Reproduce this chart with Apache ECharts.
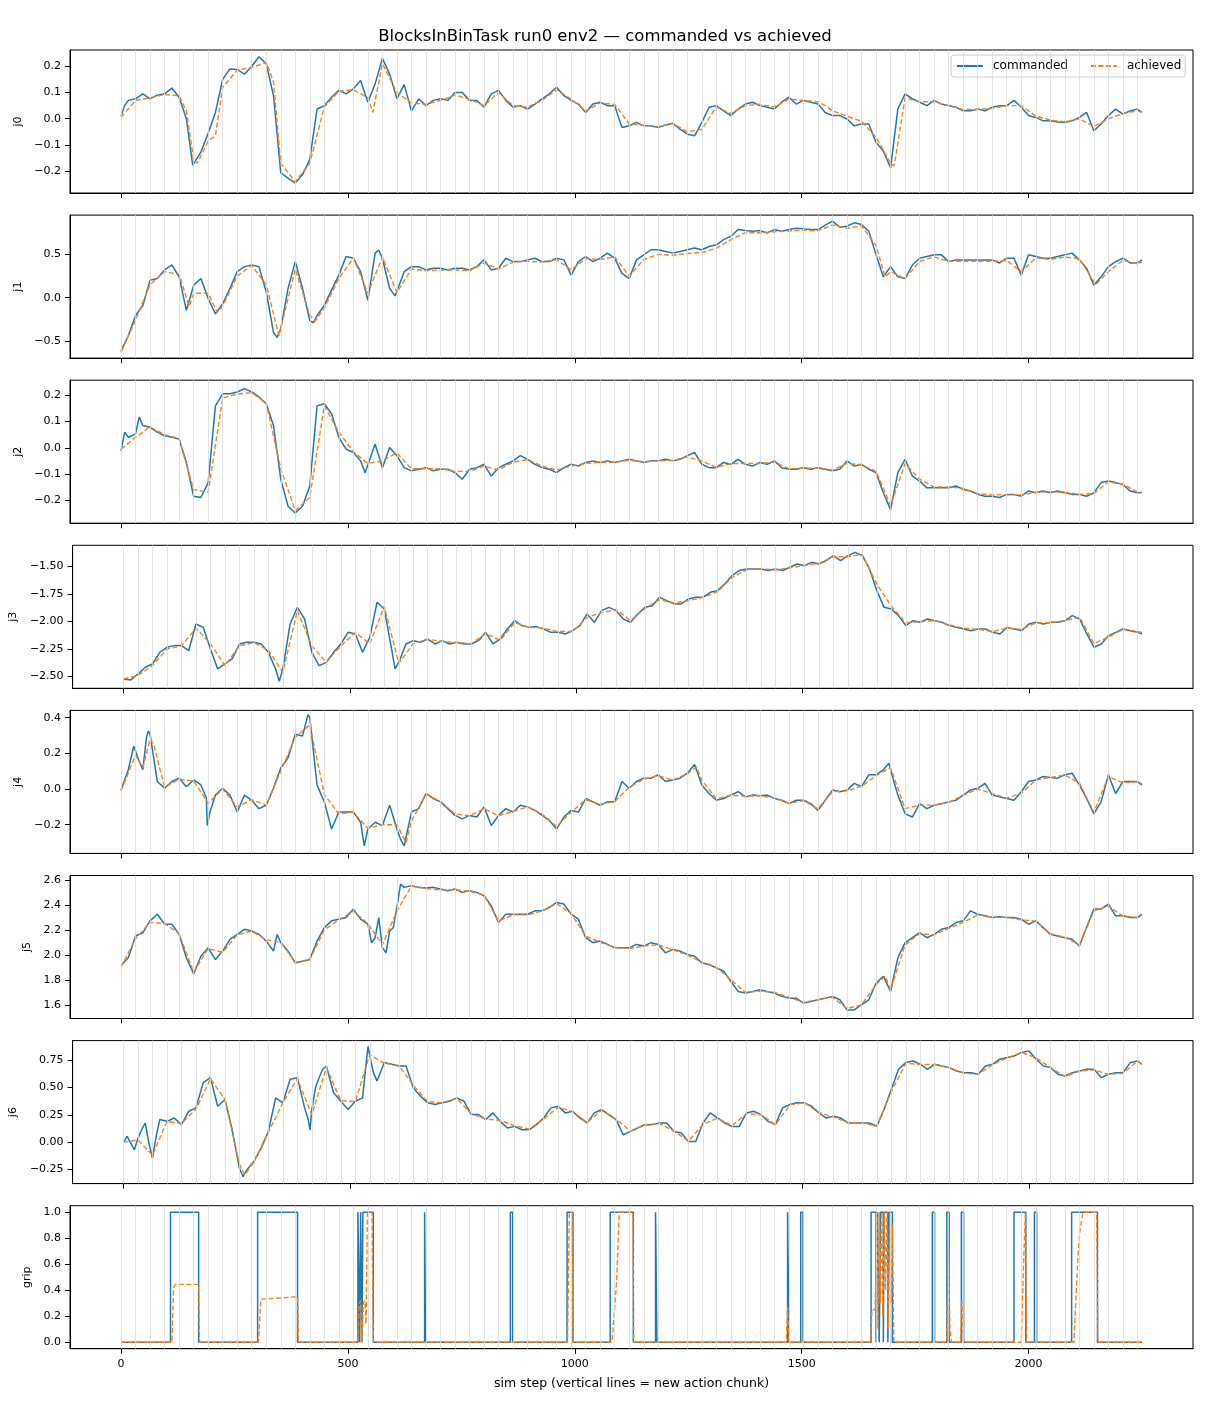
<!DOCTYPE html>
<html><head><meta charset="utf-8">
<script src="https://cdn.jsdelivr.net/npm/echarts@6/dist/echarts.min.js"></script>
<style>html,body{margin:0;padding:0;background:#fff}#c{width:1210px;height:1408px}</style>
</head><body><div id="c"></div>
<script>
const titleText = 'BlocksInBinTask run0 env2 \u2014 commanded vs achieved';
const xLabel = 'sim step (vertical lines = new action chunk)';
const seriesNames = ['commanded', 'achieved'];
const xTicks = [0, 500, 1000, 1500, 2000];
const chunkStarts = [0,32,64,96,128,160,192,224,256,288,320,352,384,416,448,480,512,544,576,608,640,672,704,736,768,800,832,864,896,928,960,992,1024,1056,1088,1120,1152,1184,1216,1248,1280,1312,1344,1376,1408,1440,1472,1504,1536,1568,1600,1632,1664,1696,1728,1760,1792,1824,1856,1888,1920,1952,1984,2016,2048,2080,2112,2144,2176,2208,2240];

const j0Cmd = [[0,0.01],[8,0.05],[16,0.07],[32,0.076],[48,0.095],[64,0.076],[80,0.09],[96,0.095],[112,0.117],[128,0.082],[144,0.0],[158,-0.177],[176,-0.127],[192,-0.055],[208,0.024],[224,0.15],[240,0.19],[256,0.188],[272,0.17],[288,0.2],[304,0.236],[320,0.21],[336,0.088],[352,-0.206],[368,-0.226],[384,-0.245],[400,-0.213],[416,-0.155],[432,0.037],[448,0.05],[464,0.082],[480,0.108],[496,0.095],[512,0.114],[528,0.146],[544,0.063],[560,0.133],[576,0.23],[592,0.17],[608,0.076],[624,0.13],[640,0.03],[656,0.076],[672,0.05],[688,0.07],[704,0.076],[720,0.07],[736,0.1],[752,0.1],[768,0.07],[784,0.07],[800,0.044],[816,0.095],[832,0.108],[848,0.07],[864,0.044],[880,0.05],[896,0.037],[912,0.056],[928,0.076],[944,0.095],[960,0.12],[976,0.088],[992,0.07],[1008,0.056],[1024,0.024],[1040,0.056],[1056,0.063],[1072,0.05],[1088,0.05],[1104,-0.033],[1120,-0.027],[1136,-0.014],[1152,-0.027],[1168,-0.027],[1184,-0.033],[1200,-0.024],[1216,-0.017],[1232,-0.04],[1248,-0.059],[1264,-0.065],[1280,-0.014],[1296,0.044],[1312,0.05],[1328,0.03],[1344,0.012],[1360,0.037],[1376,0.056],[1392,0.063],[1408,0.05],[1424,0.044],[1440,0.037],[1456,0.063],[1472,0.082],[1488,0.056],[1504,0.07],[1520,0.063],[1536,0.056],[1552,0.024],[1568,0.012],[1584,0.012],[1600,-0.001],[1616,-0.027],[1632,-0.02],[1648,-0.02],[1664,-0.09],[1680,-0.123],[1696,-0.187],[1712,0.037],[1728,0.095],[1744,0.076],[1760,0.063],[1776,0.05],[1792,0.07],[1808,0.056],[1824,0.05],[1840,0.044],[1856,0.03],[1872,0.03],[1888,0.037],[1904,0.03],[1920,0.044],[1936,0.05],[1952,0.05],[1968,0.07],[1984,0.044],[2000,0.012],[2016,0.005],[2032,-0.008],[2048,-0.008],[2064,-0.012],[2080,-0.014],[2096,-0.008],[2112,0.005],[2128,0.024],[2144,-0.046],[2160,-0.02],[2176,0.012],[2192,0.037],[2208,0.018],[2224,0.03],[2240,0.037],[2250,0.024]];
const j0Ach = [[0,0.005],[32,0.07],[64,0.08],[96,0.092],[128,0.088],[144,0.03],[160,-0.155],[168,-0.17],[192,-0.085],[208,-0.065],[224,0.12],[256,0.185],[288,0.195],[320,0.215],[336,0.14],[352,-0.17],[384,-0.24],[416,-0.17],[448,0.045],[480,0.105],[512,0.11],[544,0.08],[555,0.024],[576,0.21],[608,0.1],[640,0.06],[672,0.055],[704,0.07],[736,0.09],[768,0.075],[800,0.05],[832,0.1],[864,0.05],[896,0.045],[928,0.07],[960,0.11],[992,0.075],[1024,0.03],[1056,0.06],[1088,0.055],[1120,-0.02],[1152,-0.025],[1184,-0.03],[1216,-0.018],[1248,-0.05],[1280,-0.04],[1312,0.045],[1344,0.02],[1376,0.05],[1408,0.055],[1440,0.045],[1472,0.075],[1504,0.07],[1536,0.065],[1552,0.05],[1568,0.03],[1600,0.01],[1632,-0.01],[1664,-0.07],[1696,-0.17],[1704,-0.18],[1728,0.08],[1760,0.065],[1792,0.065],[1824,0.05],[1856,0.035],[1888,0.035],[1920,0.04],[1952,0.05],[1984,0.05],[2016,0.01],[2048,-0.005],[2080,-0.012],[2112,0.0],[2144,-0.03],[2176,0.0],[2208,0.02],[2240,0.03],[2250,0.025]];

const j1Cmd = [[0,-0.615],[16,-0.44],[32,-0.206],[48,-0.09],[64,0.2],[80,0.22],[96,0.32],[112,0.377],[128,0.24],[144,-0.148],[160,0.144],[176,0.22],[192,-0.01],[208,-0.187],[224,-0.07],[240,0.105],[256,0.3],[272,0.358],[288,0.377],[304,0.358],[320,0.066],[336,-0.4],[344,-0.46],[352,-0.36],[368,0.105],[384,0.416],[400,0.105],[416,-0.265],[424,-0.29],[432,-0.206],[448,-0.09],[464,0.086],[480,0.26],[496,0.475],[512,0.455],[528,0.3],[544,-0.03],[560,0.514],[568,0.55],[576,0.455],[592,0.105],[604,0.02],[624,0.3],[640,0.358],[656,0.358],[672,0.32],[688,0.34],[704,0.34],[720,0.32],[736,0.34],[752,0.34],[768,0.32],[784,0.358],[800,0.436],[816,0.32],[832,0.34],[848,0.455],[864,0.416],[880,0.416],[896,0.436],[912,0.455],[928,0.416],[944,0.416],[960,0.455],[976,0.436],[992,0.26],[1008,0.416],[1024,0.475],[1040,0.416],[1056,0.455],[1072,0.514],[1088,0.455],[1104,0.28],[1120,0.22],[1136,0.436],[1152,0.494],[1168,0.553],[1184,0.553],[1200,0.533],[1216,0.514],[1232,0.533],[1248,0.553],[1264,0.572],[1280,0.553],[1296,0.59],[1312,0.61],[1328,0.67],[1344,0.708],[1360,0.786],[1376,0.774],[1392,0.767],[1408,0.774],[1424,0.747],[1440,0.786],[1456,0.767],[1472,0.786],[1488,0.8],[1504,0.794],[1520,0.786],[1536,0.786],[1552,0.837],[1568,0.883],[1584,0.813],[1600,0.825],[1616,0.864],[1632,0.844],[1648,0.767],[1664,0.494],[1680,0.24],[1696,0.358],[1712,0.24],[1728,0.22],[1744,0.377],[1760,0.455],[1776,0.475],[1792,0.494],[1808,0.494],[1824,0.416],[1840,0.436],[1856,0.436],[1872,0.436],[1888,0.436],[1904,0.436],[1920,0.436],[1936,0.4],[1952,0.455],[1968,0.455],[1984,0.26],[2000,0.494],[2016,0.475],[2032,0.455],[2048,0.455],[2064,0.475],[2080,0.494],[2096,0.514],[2112,0.436],[2128,0.34],[2144,0.144],[2160,0.24],[2176,0.358],[2192,0.416],[2208,0.455],[2224,0.4],[2240,0.4],[2250,0.436]];
const j1Ach = [[0,-0.63],[32,-0.26],[64,0.15],[96,0.3],[128,0.27],[150,-0.1],[160,0.05],[192,0.05],[212,-0.17],[224,-0.1],[256,0.25],[288,0.37],[320,0.15],[348,-0.44],[384,0.33],[416,-0.2],[428,-0.27],[448,-0.12],[480,0.22],[512,0.46],[544,0.05],[576,0.47],[608,0.06],[640,0.33],[672,0.31],[704,0.32],[736,0.32],[768,0.31],[800,0.4],[832,0.33],[864,0.41],[896,0.42],[928,0.41],[960,0.44],[992,0.32],[1024,0.45],[1056,0.44],[1088,0.47],[1120,0.25],[1152,0.44],[1184,0.5],[1216,0.49],[1248,0.51],[1280,0.52],[1312,0.57],[1344,0.67],[1376,0.75],[1408,0.75],[1440,0.76],[1472,0.77],[1504,0.78],[1536,0.77],[1568,0.84],[1600,0.8],[1632,0.83],[1664,0.6],[1684,0.24],[1696,0.3],[1728,0.22],[1760,0.42],[1792,0.47],[1824,0.42],[1856,0.42],[1888,0.42],[1920,0.42],[1952,0.43],[1984,0.3],[2016,0.46],[2048,0.44],[2080,0.47],[2112,0.45],[2148,0.15],[2176,0.3],[2208,0.43],[2240,0.39],[2250,0.41]];

const j2Cmd = [[0,-0.012],[8,0.06],[16,0.04],[32,0.053],[40,0.117],[48,0.085],[64,0.078],[80,0.06],[96,0.046],[112,0.04],[128,0.033],[144,-0.056],[160,-0.185],[176,-0.19],[192,-0.133],[208,0.16],[224,0.206],[240,0.206],[256,0.213],[272,0.226],[288,0.213],[304,0.194],[320,0.168],[336,0.085],[352,-0.12],[368,-0.223],[384,-0.249],[400,-0.223],[416,-0.146],[432,0.16],[448,0.168],[464,0.13],[480,0.04],[496,-0.005],[512,-0.018],[528,-0.05],[538,-0.095],[560,0.014],[576,-0.076],[592,0.001],[608,-0.03],[624,-0.076],[640,-0.088],[656,-0.082],[672,-0.076],[688,-0.088],[704,-0.082],[720,-0.082],[736,-0.095],[752,-0.12],[768,-0.082],[784,-0.076],[800,-0.063],[816,-0.108],[832,-0.076],[848,-0.063],[864,-0.05],[880,-0.03],[896,-0.044],[912,-0.063],[928,-0.076],[944,-0.082],[960,-0.095],[976,-0.076],[992,-0.063],[1008,-0.07],[1024,-0.056],[1040,-0.05],[1056,-0.056],[1072,-0.05],[1088,-0.056],[1104,-0.05],[1120,-0.044],[1136,-0.05],[1152,-0.056],[1168,-0.05],[1184,-0.05],[1200,-0.044],[1216,-0.05],[1232,-0.044],[1248,-0.03],[1264,-0.018],[1280,-0.063],[1296,-0.076],[1312,-0.076],[1328,-0.056],[1344,-0.063],[1360,-0.044],[1376,-0.063],[1392,-0.07],[1408,-0.056],[1424,-0.063],[1440,-0.05],[1456,-0.076],[1472,-0.082],[1488,-0.082],[1504,-0.076],[1520,-0.082],[1536,-0.076],[1552,-0.082],[1568,-0.088],[1584,-0.082],[1600,-0.05],[1616,-0.07],[1632,-0.063],[1648,-0.082],[1664,-0.095],[1680,-0.172],[1696,-0.236],[1712,-0.095],[1728,-0.044],[1744,-0.108],[1760,-0.127],[1776,-0.153],[1792,-0.153],[1808,-0.153],[1824,-0.153],[1840,-0.146],[1856,-0.159],[1872,-0.165],[1888,-0.178],[1904,-0.185],[1920,-0.185],[1936,-0.19],[1952,-0.178],[1968,-0.178],[1984,-0.185],[2000,-0.165],[2016,-0.172],[2032,-0.165],[2048,-0.172],[2064,-0.165],[2080,-0.172],[2096,-0.178],[2112,-0.178],[2128,-0.185],[2144,-0.172],[2160,-0.133],[2176,-0.127],[2192,-0.133],[2208,-0.14],[2224,-0.165],[2240,-0.172],[2250,-0.172]];
const j2Ach = [[0,-0.005],[32,0.04],[64,0.08],[96,0.05],[128,0.035],[160,-0.16],[192,-0.17],[224,0.19],[256,0.205],[288,0.21],[320,0.17],[352,-0.08],[384,-0.24],[416,-0.19],[448,0.16],[480,0.06],[512,-0.015],[544,-0.06],[576,-0.05],[608,-0.02],[640,-0.08],[672,-0.08],[704,-0.08],[736,-0.09],[768,-0.09],[800,-0.07],[832,-0.085],[864,-0.055],[896,-0.045],[928,-0.07],[960,-0.085],[992,-0.07],[1024,-0.06],[1056,-0.055],[1088,-0.055],[1120,-0.048],[1152,-0.053],[1184,-0.05],[1216,-0.048],[1248,-0.035],[1280,-0.05],[1312,-0.075],[1344,-0.06],[1376,-0.06],[1408,-0.06],[1440,-0.055],[1472,-0.08],[1504,-0.078],[1536,-0.078],[1568,-0.085],[1600,-0.06],[1632,-0.065],[1664,-0.09],[1696,-0.22],[1728,-0.06],[1760,-0.12],[1792,-0.15],[1824,-0.15],[1856,-0.155],[1888,-0.175],[1920,-0.18],[1952,-0.18],[1984,-0.18],[2016,-0.17],[2048,-0.168],[2080,-0.17],[2112,-0.178],[2144,-0.175],[2176,-0.13],[2208,-0.14],[2240,-0.168],[2250,-0.17]];

const j3Cmd = [[0,-2.521],[16,-2.53],[32,-2.476],[48,-2.415],[64,-2.385],[80,-2.279],[96,-2.233],[112,-2.218],[128,-2.218],[144,-2.264],[160,-2.021],[176,-2.052],[192,-2.248],[208,-2.43],[224,-2.385],[240,-2.339],[256,-2.203],[272,-2.188],[288,-2.188],[304,-2.203],[320,-2.279],[336,-2.43],[344,-2.542],[352,-2.43],[368,-2.021],[384,-1.87],[400,-1.976],[416,-2.279],[432,-2.4],[448,-2.37],[464,-2.279],[480,-2.203],[496,-2.097],[512,-2.112],[528,-2.279],[544,-2.142],[560,-1.824],[576,-1.885],[592,-2.248],[600,-2.43],[608,-2.37],[624,-2.203],[640,-2.173],[656,-2.188],[672,-2.158],[688,-2.203],[704,-2.173],[720,-2.203],[736,-2.188],[752,-2.203],[768,-2.203],[784,-2.173],[800,-2.097],[816,-2.203],[832,-2.158],[848,-2.067],[864,-1.991],[880,-2.036],[896,-2.052],[912,-2.045],[928,-2.067],[944,-2.097],[960,-2.097],[976,-2.112],[992,-2.082],[1008,-2.036],[1024,-1.93],[1040,-2.006],[1056,-1.9],[1072,-1.87],[1088,-1.9],[1104,-1.976],[1120,-2.006],[1136,-1.93],[1152,-1.87],[1168,-1.855],[1184,-1.779],[1200,-1.809],[1216,-1.839],[1232,-1.839],[1248,-1.794],[1264,-1.779],[1280,-1.779],[1296,-1.733],[1312,-1.718],[1328,-1.658],[1344,-1.582],[1360,-1.536],[1376,-1.521],[1392,-1.521],[1408,-1.521],[1424,-1.536],[1440,-1.521],[1456,-1.536],[1472,-1.506],[1488,-1.476],[1504,-1.491],[1520,-1.461],[1536,-1.476],[1552,-1.445],[1568,-1.4],[1584,-1.445],[1600,-1.4],[1616,-1.37],[1632,-1.4],[1648,-1.521],[1664,-1.718],[1680,-1.87],[1696,-1.885],[1712,-1.945],[1728,-2.036],[1744,-1.991],[1760,-2.006],[1776,-1.976],[1792,-1.991],[1808,-2.006],[1824,-2.036],[1840,-2.052],[1856,-2.067],[1872,-2.082],[1888,-2.067],[1904,-2.067],[1920,-2.097],[1936,-2.112],[1952,-2.052],[1968,-2.067],[1984,-2.082],[2000,-2.021],[2016,-2.006],[2032,-2.021],[2048,-2.006],[2064,-2.006],[2080,-1.991],[2096,-1.945],[2112,-1.976],[2128,-2.112],[2144,-2.233],[2160,-2.203],[2176,-2.127],[2192,-2.097],[2208,-2.067],[2224,-2.082],[2240,-2.097],[2250,-2.112]];
const j3Ach = [[0,-2.52],[32,-2.49],[64,-2.4],[96,-2.25],[128,-2.22],[160,-2.06],[192,-2.2],[224,-2.4],[256,-2.22],[288,-2.19],[320,-2.26],[352,-2.46],[384,-1.9],[416,-2.22],[448,-2.37],[480,-2.22],[512,-2.1],[544,-2.2],[576,-1.86],[608,-2.38],[640,-2.2],[672,-2.16],[704,-2.18],[736,-2.19],[768,-2.2],[800,-2.11],[832,-2.17],[864,-2.01],[896,-2.05],[928,-2.06],[960,-2.09],[992,-2.09],[1024,-1.96],[1056,-1.92],[1088,-1.89],[1120,-1.99],[1152,-1.88],[1184,-1.8],[1216,-1.83],[1248,-1.81],[1280,-1.78],[1312,-1.73],[1344,-1.6],[1376,-1.53],[1408,-1.52],[1440,-1.53],[1472,-1.51],[1504,-1.49],[1536,-1.47],[1568,-1.41],[1600,-1.41],[1632,-1.39],[1664,-1.66],[1696,-1.86],[1728,-2.01],[1760,-2.0],[1792,-1.99],[1824,-2.03],[1856,-2.06],[1888,-2.07],[1920,-2.09],[1952,-2.06],[1984,-2.07],[2016,-2.01],[2048,-2.01],[2080,-1.99],[2112,-1.96],[2144,-2.2],[2176,-2.14],[2208,-2.07],[2240,-2.09],[2250,-2.1]];

const j4Cmd = [[0,-0.006],[16,0.108],[28,0.24],[40,0.156],[48,0.108],[56,0.288],[60,0.326],[64,0.307],[80,0.042],[96,0.004],[112,0.042],[128,0.061],[144,0.013],[160,0.051],[176,0.023],[188,-0.05],[190,-0.205],[196,-0.129],[208,-0.034],[224,0.004],[240,-0.034],[256,-0.129],[272,-0.034],[288,-0.063],[304,-0.11],[320,-0.091],[336,0.004],[352,0.118],[368,0.175],[384,0.307],[400,0.298],[412,0.417],[416,0.402],[432,0.023],[448,-0.072],[464,-0.224],[480,-0.129],[496,-0.129],[512,-0.129],[528,-0.186],[536,-0.319],[544,-0.224],[560,-0.186],[576,-0.205],[592,-0.091],[608,-0.224],[616,-0.281],[624,-0.319],[640,-0.129],[656,-0.11],[672,-0.025],[688,-0.053],[704,-0.072],[720,-0.11],[736,-0.148],[752,-0.167],[768,-0.148],[784,-0.157],[800,-0.1],[816,-0.205],[832,-0.148],[848,-0.11],[864,-0.129],[880,-0.091],[896,-0.1],[912,-0.12],[928,-0.148],[944,-0.176],[960,-0.224],[976,-0.157],[992,-0.12],[1008,-0.129],[1024,-0.053],[1040,-0.072],[1056,-0.091],[1072,-0.072],[1088,-0.072],[1104,0.042],[1120,0.004],[1136,0.042],[1152,0.061],[1168,0.061],[1184,0.08],[1200,0.042],[1216,0.051],[1232,0.061],[1248,0.089],[1264,0.137],[1280,0.023],[1296,-0.025],[1312,-0.063],[1328,-0.053],[1344,-0.034],[1360,-0.015],[1376,-0.044],[1392,-0.034],[1408,-0.038],[1424,-0.034],[1440,-0.053],[1456,-0.063],[1472,-0.082],[1488,-0.063],[1504,-0.063],[1520,-0.082],[1536,-0.12],[1552,-0.063],[1568,-0.006],[1584,-0.015],[1600,-0.006],[1616,0.032],[1632,0.013],[1648,0.08],[1664,0.08],[1680,0.108],[1692,0.145],[1712,-0.034],[1728,-0.139],[1744,-0.157],[1760,-0.082],[1776,-0.11],[1792,-0.091],[1808,-0.082],[1824,-0.072],[1840,-0.063],[1856,-0.034],[1872,-0.006],[1888,0.004],[1904,0.032],[1920,-0.034],[1936,-0.044],[1952,-0.053],[1968,-0.063],[1984,-0.015],[2000,0.042],[2016,0.051],[2032,0.07],[2048,0.065],[2064,0.061],[2080,0.08],[2096,0.089],[2112,0.023],[2128,-0.053],[2144,-0.139],[2160,-0.072],[2176,0.08],[2192,-0.025],[2208,0.042],[2224,0.042],[2240,0.042],[2250,0.023]];
const j4Ach = [[0,-0.01],[32,0.19],[48,0.12],[64,0.28],[72,0.25],[96,0.01],[128,0.055],[160,0.045],[192,-0.08],[224,0.0],[256,-0.1],[288,-0.06],[320,-0.09],[352,0.1],[384,0.29],[416,0.36],[448,-0.03],[480,-0.14],[512,-0.13],[544,-0.22],[576,-0.2],[608,-0.2],[628,-0.3],[640,-0.18],[672,-0.03],[704,-0.07],[736,-0.14],[768,-0.15],[800,-0.11],[832,-0.15],[864,-0.125],[896,-0.1],[928,-0.14],[960,-0.21],[992,-0.13],[1024,-0.06],[1056,-0.085],[1088,-0.07],[1120,0.01],[1152,0.055],[1184,0.075],[1216,0.05],[1248,0.085],[1268,0.125],[1280,0.05],[1312,-0.055],[1344,-0.035],[1376,-0.04],[1408,-0.038],[1440,-0.05],[1472,-0.08],[1504,-0.065],[1536,-0.11],[1568,-0.015],[1600,-0.01],[1632,0.015],[1664,0.075],[1696,0.12],[1728,-0.11],[1760,-0.09],[1792,-0.09],[1824,-0.075],[1856,-0.035],[1888,0.0],[1920,-0.025],[1952,-0.05],[1984,-0.025],[2016,0.05],[2048,0.065],[2080,0.078],[2112,0.035],[2144,-0.13],[2176,0.07],[2208,0.035],[2240,0.04],[2250,0.03]];

const j5Cmd = [[0,1.917],[16,1.976],[32,2.151],[48,2.177],[64,2.272],[80,2.325],[96,2.245],[112,2.245],[128,2.164],[144,1.976],[160,1.847],[176,1.989],[192,2.056],[208,1.962],[224,2.03],[240,2.124],[256,2.164],[272,2.204],[288,2.191],[304,2.164],[320,2.11],[336,2.03],[344,2.164],[352,2.097],[368,2.03],[384,1.935],[400,1.949],[416,1.962],[432,2.11],[448,2.218],[464,2.272],[480,2.285],[496,2.298],[512,2.366],[528,2.285],[544,2.245],[552,2.097],[560,2.137],[568,2.298],[576,2.056],[584,2.016],[592,2.191],[600,2.218],[608,2.379],[616,2.567],[624,2.54],[640,2.554],[656,2.54],[672,2.535],[688,2.54],[704,2.527],[720,2.513],[736,2.527],[752,2.5],[768,2.513],[784,2.5],[800,2.473],[816,2.392],[832,2.258],[848,2.325],[864,2.325],[880,2.325],[896,2.325],[912,2.352],[928,2.352],[944,2.379],[960,2.419],[976,2.406],[992,2.325],[1008,2.285],[1024,2.137],[1040,2.097],[1056,2.11],[1072,2.083],[1088,2.056],[1104,2.056],[1120,2.056],[1136,2.083],[1152,2.07],[1168,2.097],[1184,2.083],[1200,2.016],[1216,2.043],[1232,2.03],[1248,2.003],[1264,1.989],[1280,1.935],[1296,1.922],[1312,1.895],[1328,1.868],[1344,1.788],[1360,1.707],[1376,1.694],[1392,1.707],[1408,1.72],[1424,1.707],[1440,1.694],[1456,1.667],[1472,1.653],[1488,1.653],[1504,1.613],[1520,1.626],[1536,1.64],[1552,1.653],[1568,1.667],[1584,1.64],[1600,1.559],[1616,1.559],[1632,1.6],[1648,1.64],[1664,1.774],[1680,1.828],[1696,1.707],[1712,1.976],[1728,2.097],[1744,2.137],[1760,2.177],[1776,2.137],[1792,2.164],[1808,2.204],[1824,2.218],[1840,2.258],[1856,2.272],[1872,2.352],[1888,2.325],[1904,2.312],[1920,2.298],[1936,2.304],[1952,2.298],[1968,2.298],[1984,2.285],[2000,2.245],[2016,2.272],[2032,2.218],[2048,2.164],[2064,2.151],[2080,2.137],[2096,2.124],[2112,2.07],[2128,2.218],[2144,2.366],[2160,2.366],[2176,2.406],[2192,2.312],[2208,2.312],[2224,2.298],[2240,2.298],[2250,2.325]];
const j5Ach = [[0,1.9],[32,2.13],[64,2.26],[96,2.25],[128,2.17],[160,1.86],[192,2.05],[224,2.02],[256,2.16],[288,2.19],[320,2.12],[352,2.1],[384,1.94],[416,1.96],[448,2.2],[480,2.28],[512,2.35],[544,2.25],[576,2.08],[608,2.35],[640,2.55],[672,2.53],[704,2.52],[736,2.52],[768,2.51],[800,2.48],[832,2.27],[864,2.32],[896,2.32],[928,2.35],[960,2.41],[992,2.33],[1024,2.15],[1056,2.1],[1088,2.06],[1120,2.05],[1152,2.07],[1184,2.08],[1216,2.04],[1248,2.0],[1280,1.94],[1312,1.9],[1344,1.8],[1376,1.7],[1408,1.71],[1440,1.7],[1472,1.66],[1504,1.62],[1536,1.64],[1568,1.66],[1600,1.57],[1632,1.6],[1664,1.76],[1684,1.83],[1696,1.72],[1728,2.08],[1760,2.17],[1792,2.16],[1824,2.21],[1856,2.26],[1888,2.32],[1920,2.3],[1952,2.3],[1984,2.28],[2016,2.27],[2048,2.17],[2080,2.14],[2112,2.08],[2144,2.35],[2176,2.39],[2208,2.31],[2240,2.3],[2250,2.32]];

const j6Cmd = [[0,-0.003],[8,0.052],[16,-0.009],[24,-0.07],[32,0.037],[40,0.113],[48,0.175],[56,-0.009],[64,-0.147],[72,0.052],[80,0.206],[96,0.19],[112,0.221],[128,0.16],[144,0.282],[160,0.313],[176,0.543],[192,0.589],[208,0.328],[224,0.39],[240,0.113],[256,-0.239],[264,-0.316],[272,-0.255],[288,-0.178],[304,-0.055],[320,0.098],[336,0.405],[352,0.359],[368,0.574],[384,0.589],[400,0.313],[408,0.206],[412,0.11],[416,0.298],[424,0.497],[432,0.589],[440,0.666],[448,0.696],[464,0.451],[480,0.374],[496,0.298],[512,0.374],[528,0.405],[540,0.874],[544,0.788],[552,0.635],[560,0.558],[576,0.727],[592,0.712],[608,0.696],[624,0.696],[640,0.497],[656,0.42],[672,0.359],[688,0.344],[704,0.359],[720,0.374],[736,0.405],[752,0.374],[768,0.252],[784,0.252],[800,0.206],[816,0.267],[832,0.19],[848,0.129],[864,0.144],[880,0.113],[896,0.113],[912,0.16],[928,0.221],[944,0.313],[960,0.328],[976,0.267],[992,0.282],[1008,0.221],[1024,0.175],[1040,0.267],[1056,0.298],[1072,0.252],[1088,0.206],[1104,0.067],[1120,0.098],[1136,0.129],[1152,0.16],[1168,0.16],[1184,0.175],[1200,0.175],[1216,0.098],[1232,0.083],[1248,0.006],[1264,0.006],[1280,0.175],[1296,0.267],[1312,0.221],[1328,0.175],[1344,0.144],[1360,0.144],[1376,0.267],[1392,0.282],[1408,0.252],[1424,0.19],[1440,0.16],[1456,0.313],[1472,0.344],[1488,0.359],[1504,0.359],[1520,0.328],[1536,0.267],[1552,0.221],[1568,0.236],[1584,0.221],[1600,0.175],[1616,0.175],[1632,0.175],[1648,0.175],[1664,0.144],[1680,0.298],[1696,0.482],[1712,0.666],[1728,0.727],[1744,0.742],[1760,0.712],[1776,0.666],[1792,0.712],[1808,0.696],[1824,0.681],[1840,0.65],[1856,0.635],[1872,0.635],[1888,0.62],[1904,0.696],[1920,0.712],[1936,0.758],[1952,0.773],[1968,0.788],[1984,0.819],[2000,0.834],[2016,0.758],[2032,0.696],[2048,0.681],[2064,0.62],[2080,0.604],[2096,0.635],[2112,0.65],[2128,0.666],[2144,0.666],[2160,0.589],[2176,0.62],[2192,0.635],[2208,0.635],[2224,0.727],[2240,0.742],[2250,0.712]];
const j6Ach = [[0,0.0],[32,0.02],[64,-0.12],[96,0.19],[128,0.17],[160,0.3],[192,0.58],[224,0.39],[256,-0.2],[268,-0.3],[288,-0.18],[320,0.09],[352,0.36],[384,0.58],[416,0.25],[448,0.68],[480,0.38],[512,0.37],[544,0.8],[576,0.72],[608,0.7],[640,0.52],[672,0.37],[704,0.36],[736,0.4],[768,0.26],[800,0.21],[832,0.2],[864,0.15],[896,0.12],[928,0.21],[960,0.32],[992,0.28],[1024,0.18],[1056,0.29],[1088,0.21],[1120,0.1],[1152,0.16],[1184,0.17],[1216,0.1],[1248,0.01],[1280,0.16],[1312,0.22],[1344,0.15],[1376,0.26],[1408,0.25],[1440,0.16],[1472,0.34],[1504,0.36],[1536,0.27],[1568,0.23],[1600,0.18],[1632,0.175],[1664,0.145],[1696,0.46],[1728,0.72],[1760,0.71],[1792,0.71],[1824,0.68],[1856,0.63],[1888,0.62],[1920,0.71],[1952,0.77],[1984,0.82],[2016,0.77],[2048,0.68],[2080,0.6],[2112,0.65],[2144,0.66],[2176,0.62],[2208,0.63],[2240,0.74],[2250,0.71]];

const gripCmd = [[0,0],[109,0],[109,1],[171,1],[171,0],[301,0],[301,1],[389,1],[389,0],[522,0],[522,1],[526,1],[526,0],[528,0],[528,1],[531,1],[531,0],[533,0],[533,1],[556,1],[556,0],[669,0],[669,1],[671,1],[671,0],[858,0],[858,1],[863,1],[863,0],[983,0],[983,1],[996,1],[996,0],[1078,0],[1078,1],[1129,1],[1129,0],[1178,0],[1178,1],[1181,1],[1181,0],[1469,0],[1469,1],[1472,1],[1472,0],[1498,0],[1498,1],[1503,1],[1503,0],[1653,0],[1653,1],[1664,1],[1664,0],[1667,0],[1667,1],[1671,1],[1671,0],[1674,0],[1674,1],[1680,1],[1680,0],[1682,0],[1682,1],[1690,1],[1690,0],[1693,0],[1693,1],[1700,1],[1700,0],[1788,0],[1788,1],[1793,1],[1793,0],[1820,0],[1820,1],[1825,1],[1825,0],[1852,0],[1852,1],[1857,1],[1857,0],[1968,0],[1968,1],[1994,1],[1994,0],[2013,0],[2013,1],[2018,1],[2018,0],[2095,0],[2095,1],[2152,1],[2152,0],[2250,0]];
const gripAch = [[0,0],[112,0],[116,0.42],[120,0.445],[171,0.445],[173,0],[303,0],[308,0.33],[312,0.345],[389,0.35],[391,0],[522,0],[525,0.3],[528,0.32],[531,0.0],[534,0.3],[537,0.32],[540,0.14],[543,1.0],[553,1.0],[556,0],[984,0],[988,1.0],[994,1.0],[996,0],[1082,0],[1092,0.45],[1098,1.0],[1128,1.0],[1130,0],[1466,0],[1469,0.27],[1472,0],[1500,0],[1502,0.03],[1505,0],[1652,0],[1655,0.25],[1662,0.25],[1666,1.0],[1668,0.1],[1671,1.0],[1673,0.3],[1676,1.0],[1679,0.2],[1682,1.0],[1685,0.4],[1688,1.0],[1691,0.1],[1694,1.0],[1697,0.3],[1700,0.9],[1703,0],[1820,0],[1823,0.77],[1827,0.1],[1830,0],[1850,0],[1853,0.32],[1857,0],[1984,0],[1990,0.7],[1993,1.0],[1996,0],[2100,0],[2108,0.6],[2113,0.85],[2120,1.0],[2150,1.0],[2153,0],[2250,0]];

const panels = [
  {label:'j0', cmd:j0Cmd, ach:j0Ach, ymin:-0.283, ymax:0.262, ticks:[-0.2,-0.1,0,0.1,0.2], dec:1, gap:42},
  {label:'j1', cmd:j1Cmd, ach:j1Ach, ymin:-0.698, ymax:0.953, ticks:[-0.5,0,0.5], dec:1, gap:42},
  {label:'j2', cmd:j2Cmd, ach:j2Ach, ymin:-0.288, ymax:0.258, ticks:[-0.2,-0.1,0,0.1,0.2], dec:1, gap:42},
  {label:'j3', cmd:j3Cmd, ach:j3Ach, ymin:-2.606, ymax:-1.306, ticks:[-2.5,-2.25,-2.0,-1.75,-1.5], dec:2, gap:49},
  {label:'j4', cmd:j4Cmd, ach:j4Ach, ymin:-0.361, ymax:0.441, ticks:[-0.2,0,0.2,0.4], dec:1, gap:42},
  {label:'j5', cmd:j5Cmd, ach:j5Ach, ymin:1.49, ymax:2.635, ticks:[1.6,1.8,2.0,2.2,2.4,2.6], dec:1, gap:33},
  {label:'j6', cmd:j6Cmd, ach:j6Ach, ymin:-0.379, ymax:0.928, ticks:[-0.25,0,0.25,0.5,0.75], dec:2, gap:49},
  {label:'grip', cmd:gripCmd, ach:gripAch, ymin:-0.05, ymax:1.05, ticks:[0,0.2,0.4,0.6,0.8,1.0], dec:1, gap:33}
];

const BLUE = '#1f77b4', ORANGE = '#ff7f0e';
const FONT = 'DejaVu Sans';
const fmt = (v, d) => v.toFixed(d).replace('-', '\u2212');

const grids = [], xAxes = [], yAxes = [], series = [];
panels.forEach((p, i) => {
  const last = i === panels.length - 1;
  grids.push({left: 70, right: 17, top: 50 + 165.1 * i, height: 143, show: true, borderColor: '#000', borderWidth: 1, backgroundColor: 'transparent'});
  xAxes.push({
    type: 'value', gridIndex: i, min: -112.5, max: 2362.5,
    axisLine: {show: true, onZero: false, lineStyle: {color: '#000', width: 1}},
    axisTick: {show: true, length: 5, customValues: xTicks, lineStyle: {color: '#000', width: 1}},
    axisLabel: {show: last, customValues: xTicks, margin: 10, fontSize: 11, color: '#000', fontFamily: FONT,
      formatter: (v) => String(Math.round(v))},
    splitLine: {show: false},
    name: last ? xLabel : '', nameLocation: 'middle', nameGap: 29,
    nameTextStyle: {fontSize: 12.5, color: '#000', fontFamily: FONT}
  });
  yAxes.push({
    type: 'value', gridIndex: i, min: p.ymin, max: p.ymax,
    axisLine: {show: true, onZero: false, lineStyle: {color: '#000', width: 1}},
    axisTick: {show: true, length: 5, customValues: p.ticks, lineStyle: {color: '#000', width: 1}},
    axisLabel: {customValues: p.ticks, margin: 9, fontSize: 11, color: '#000', fontFamily: FONT,
      formatter: (v) => fmt(v, p.dec)},
    splitLine: {show: false},
    name: p.label, nameLocation: 'middle', nameGap: p.gap, nameRotate: 90,
    nameTextStyle: {fontSize: 11, color: '#000', fontFamily: FONT}
  });
  series.push({
    type: 'line', name: 'chunks', xAxisIndex: i, yAxisIndex: i, data: [], z: 1, silent: true,
    markLine: {silent: true, symbol: ['none', 'none'], animation: false, label: {show: false},
      lineStyle: {color: '#dadada', width: 0.8, type: 'solid'},
      emphasis: {disabled: true},
      data: chunkStarts.map(v => ({xAxis: v}))}
  });
  series.push({
    type: 'line', name: seriesNames[0], xAxisIndex: i, yAxisIndex: i, data: p.cmd,
    showSymbol: false, symbol: 'none', z: 3, lineStyle: {color: BLUE, width: 1.5}, itemStyle: {color: BLUE},
    emphasis: {disabled: true}
  });
  series.push({
    type: 'line', name: seriesNames[1], xAxisIndex: i, yAxisIndex: i, data: p.ach,
    showSymbol: false, symbol: 'none', z: 4, lineStyle: {color: ORANGE, width: 1.4, type: [5, 2.5]}, itemStyle: {color: ORANGE},
    emphasis: {disabled: true}
  });
});

const chart = echarts.init(document.getElementById('c'), null, {renderer: 'canvas'});
chart.setOption({
  animation: false,
  backgroundColor: '#fff',
  title: {text: titleText, left: 'center', top: 28, padding: 0,
    textStyle: {fontSize: 16.5, fontWeight: 'normal', color: '#000', fontFamily: FONT}},
  legend: {
    data: seriesNames, left: 951, top: 55, orient: 'horizontal',
    itemWidth: 26, itemHeight: 11, itemGap: 22,
    padding: [5, 4, 5, 5],
    borderColor: '#cccccc', borderWidth: 1, borderRadius: 3,
    backgroundColor: 'rgba(255,255,255,0.8)',
    itemStyle: {color: 'rgba(0,0,0,0)', borderColor: 'rgba(0,0,0,0)', borderWidth: 0, opacity: 0},
    textStyle: {fontSize: 12, color: '#000', fontFamily: FONT, padding: [0, 0, 0, 5]}
  },
  grid: grids, xAxis: xAxes, yAxis: yAxes, series: series
});
</script>
</body></html>
